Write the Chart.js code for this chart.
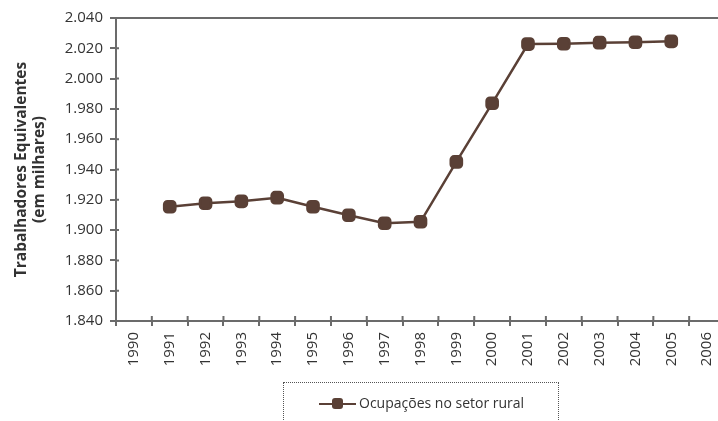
<!DOCTYPE html>
<html>
<head>
<meta charset="utf-8">
<script src="https://cdn.jsdelivr.net/npm/chart.js@4"></script>
<style>
  html, body { margin: 0; padding: 0; background: #fff; overflow: hidden; }
  #wrap { position: relative; width: 734px; height: 421px; }
  #legend { position: absolute; left: 283px; top: 382px; width: 274px; height: 60px;
            border: 1px dotted #555; font: 14px "Open Sans"; color: #333; }
  #legend .ln { position: absolute; left: 35px; top: 20px; width: 37px; height: 2px; background: #5a4036; }
  #legend .mk { position: absolute; left: 48px; top: 15px; width: 11px; height: 11px; border-radius: 3px; background: #5a4036; }
  #legend .tx { position: absolute; left: 75px; top: 10px; white-space: nowrap; }
</style>
</head>
<body>
<div id="wrap">
  <canvas id="chart" width="734" height="421"></canvas>
  <div id="legend"><span class="ln"></span><span class="mk"></span><span class="tx">Ocupações no setor rural</span></div>
</div>
<script>
const years = ["1990", "1991", "1992", "1993", "1994", "1995", "1996", "1997", "1998",
               "1999", "2000", "2001", "2002", "2003", "2004", "2005", "2006"];
const ocupacoes = [null, 1915.4, 1917.7, 1919, 1921.4, 1915.4, 1909.8, 1904.5, 1905.5,
                   1945, 1983.7, 2022.8, 2023, 2023.7, 2024, 2024.6, null];
const yMin = 1840;
const yMax = 2040;
const yStep = 20;
const yTitle = ["Trabalhadores Equivalentes", "(em milhares)"];

const axisColor = "#6b6b6b";
const lineColor = "#5a4036";

// thousands with a dot, like 1.840
const fmt = v => String(v).replace(/\B(?=(\d{3})+(?!\d))/g, ".");

// top border + the short inner part of the tick marks
const frame = {
    id: "frame",
    afterDraw(chart) {
        const { ctx, chartArea: a, scales } = chart;
        ctx.save();
        ctx.strokeStyle = axisColor;
        ctx.lineWidth = 2;
        ctx.beginPath();
        ctx.moveTo(a.left - 1, a.top);
        ctx.lineTo(a.right + 10, a.top);
        scales.y.ticks.forEach((t, i) => {
            const py = scales.y.getPixelForTick(i);
            ctx.moveTo(a.left, py);
            ctx.lineTo(a.left + 3, py);
        });
        for (let i = 0; i <= years.length; i++) {
            const px = a.left + (a.right - a.left) * i / years.length;
            ctx.moveTo(px, a.bottom);
            ctx.lineTo(px, a.bottom - 5);
        }
        ctx.stroke();
        ctx.restore();
    }
};

new Chart(document.getElementById("chart").getContext("2d"), {
    type: "line",
    data: {
        labels: years,
        datasets: [{
            label: "Ocupações no setor rural",
            data: ocupacoes,
            borderColor: lineColor,
            backgroundColor: lineColor,
            borderWidth: 2.5,
            pointStyle: "rectRounded",
            pointRadius: 6.5,
            pointHoverRadius: 6.5,
            tension: 0
        }]
    },
    options: {
        responsive: false,
        animation: false,
        layout: { padding: { top: 18, right: 5, left: 0, bottom: 0 } },
        plugins: { legend: { display: false }, tooltip: { enabled: false } },
        scales: {
            x: {
                offset: true,
                grid: { offset: true, drawOnChartArea: false, tickLength: 5, color: axisColor, lineWidth: 2 },
                border: { color: axisColor, width: 2 },
                ticks: { minRotation: 90, maxRotation: 90, padding: 6, color: "#333",
                         font: { family: "Open Sans", size: 15 } },
                afterFit: s => { s.height = 100; }
            },
            y: {
                min: yMin,
                max: yMax,
                grid: { drawOnChartArea: false, tickLength: 6, color: axisColor, lineWidth: 2 },
                border: { color: axisColor, width: 2 },
                ticks: { stepSize: yStep, padding: 7, color: "#333", callback: v => fmt(v),
                         font: { family: "Open Sans", size: 15 } },
                title: {
                    display: true,
                    text: yTitle,
                    color: "#333",
                    padding: { top: 13, bottom: 0 },
                    font: { family: "Open Sans", size: 15.5, weight: "bold", lineHeight: "18px" }
                },
                afterFit: s => { s.width = 116; }
            }
        }
    },
    plugins: [frame]
});
</script>
</body>
</html>
